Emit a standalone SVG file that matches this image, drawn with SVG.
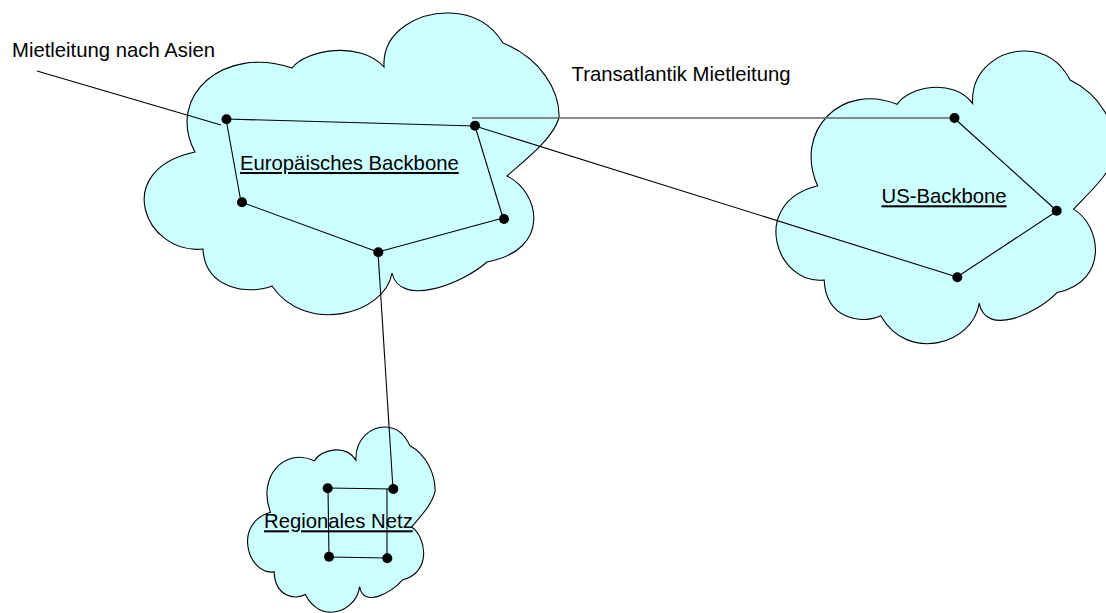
<svg xmlns="http://www.w3.org/2000/svg" xmlns:xlink="http://www.w3.org/1999/xlink" width="1106" height="613" viewBox="0 0 1106 613">
<style>
.cloud{fill:#CCFFFF;stroke:#000;stroke-width:1.1}
.edge{stroke:#000;stroke-width:1.1;fill:none}
.gray{stroke:#666;stroke-width:1.6}
.dot{fill:#000}
.lbl{font-family:"Liberation Sans",Arial,sans-serif;font-size:20.3px;fill:#000}
.ul{text-decoration:underline}
</style>
<defs>
<path id="cloud" vector-effect="non-scaling-stroke" d="M195,152 C165,95 225,45 292,68 C305,50 360,40 384,67 C382,30 420,12 450,13 C480,14 495,30 503,43 C540,58 560,90 559,118 C552,140 525,160 507,176 C540,192 552,250 487,262 C462,284 400,308 392,273 C385,315 305,335 272,286 C250,295 205,290 203,249 C145,255 110,170 195,152 Z"/>
</defs>
<g id="cloud-europe"><use href="#cloud" class="cloud"/></g>
<g id="cloud-us"><use href="#cloud" class="cloud" transform="matrix(0.82 0 0 0.97 657.7 38.4)"/></g>
<g id="cloud-regional"><use href="#cloud" class="cloud" transform="matrix(0.452 0 0 0.614 182.4 419)"/></g>
<g id="connectors">
<line class="edge" x1="37" y1="71" x2="221" y2="125"/>
<line class="edge gray" x1="472" y1="118" x2="954" y2="118"/>
<line class="edge" x1="226" y1="119" x2="475" y2="126"/>
<line class="edge" x1="226" y1="119" x2="241" y2="202"/>
<line class="edge" x1="475" y1="126" x2="503" y2="218"/>
<line class="edge" x1="241" y1="202" x2="378" y2="252"/>
<line class="edge" x1="503" y1="218" x2="378" y2="252"/>
<line class="edge" x1="475" y1="126" x2="957" y2="277"/>
<line class="edge" x1="954" y1="118" x2="1057" y2="211"/>
<line class="edge" x1="1057" y1="211" x2="957" y2="277"/>
<line class="edge" x1="378" y1="252" x2="393" y2="489"/>
<line class="edge" x1="328" y1="488" x2="393" y2="489"/>
<line class="edge" x1="328" y1="488" x2="329" y2="557"/>
<line class="edge" x1="387" y1="489" x2="387" y2="558"/>
<line class="edge" x1="329" y1="557" x2="387" y2="558"/>
</g>
<g id="nodes-europe">
<circle class="dot" cx="226.5" cy="119.3" r="5"/>
<circle class="dot" cx="475" cy="125.7" r="5"/>
<circle class="dot" cx="242" cy="202.3" r="5"/>
<circle class="dot" cx="504" cy="219" r="5"/>
<circle class="dot" cx="378.3" cy="252.3" r="5"/>
</g>
<g id="nodes-us">
<circle class="dot" cx="954.5" cy="118" r="5"/>
<circle class="dot" cx="1056.7" cy="210.7" r="5"/>
<circle class="dot" cx="957.3" cy="277.3" r="5"/>
</g>
<g id="nodes-regional">
<circle class="dot" cx="327.7" cy="488.3" r="5"/>
<circle class="dot" cx="393.3" cy="489" r="5"/>
<circle class="dot" cx="329" cy="556.7" r="5"/>
<circle class="dot" cx="387.3" cy="558.3" r="5"/>
</g>
<g id="labels">
<text class="lbl" x="12" y="56.5">Mietleitung nach Asien</text>
<text class="lbl" x="571.5" y="81">Transatlantik Mietleitung</text>
<text class="lbl ul" x="240" y="170">Europäisches Backbone</text>
<text class="lbl ul" x="881.5" y="203.3">US-Backbone</text>
<text class="lbl ul" x="264" y="528.3">Regionales Netz</text>
</g>
</svg>
